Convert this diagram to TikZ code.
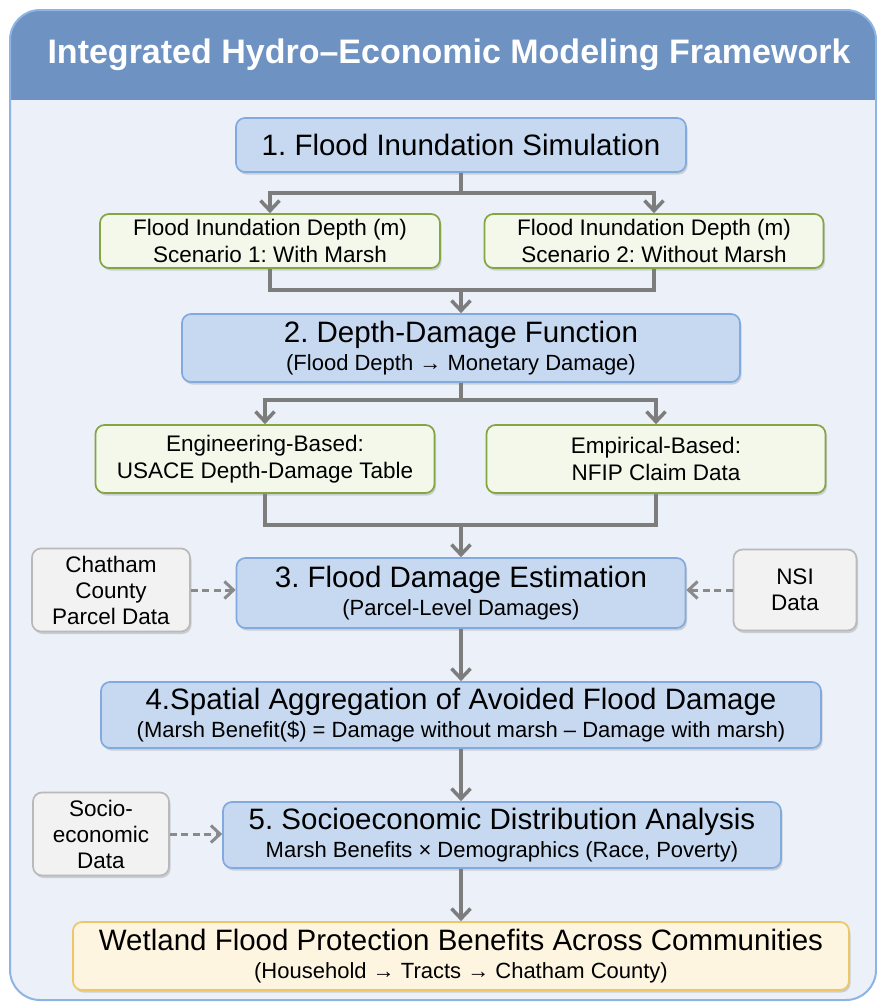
\documentclass[tikz,border=0pt]{standalone}
\usepackage{fontspec}
\setmainfont{Liberation Sans}
\usetikzlibrary{arrows.meta,shadows}

\definecolor{headblue}{RGB}{110,147,194}
\definecolor{bodyfill}{RGB}{235,240,249}
\definecolor{framedraw}{RGB}{142,180,227}
\definecolor{stagefill}{RGB}{198,217,241}
\definecolor{stagedraw}{RGB}{130,170,222}
\definecolor{greenfill}{RGB}{243,248,234}
\definecolor{greendraw}{RGB}{132,165,66}
\definecolor{grayfill}{RGB}{242,242,242}
\definecolor{graydraw}{RGB}{185,185,185}
\definecolor{goldfill}{RGB}{253,245,224}
\definecolor{golddraw}{RGB}{238,198,100}
\definecolor{linkgray}{RGB}{125,125,125}

\newcommand{\subsize}{\fontsize{22}{26}\selectfont}
\frenchspacing

\tikzset{
  box/.style={rounded corners=9pt, line width=1.7pt, align=center, inner sep=0pt,
    drop shadow={shadow xshift=1.5pt, shadow yshift=-2.5pt, opacity=0.3}},
  stage/.style={box, draw=stagedraw, fill=stagefill, font=\fontsize{29.5}{28}\selectfont},
  variant/.style={box, draw=greendraw, fill=greenfill, font=\fontsize{22.5}{26.5}\selectfont},
  datain/.style={box, draw=graydraw, fill=grayfill, font=\fontsize{22.5}{26}\selectfont},
  result/.style={box, draw=golddraw, fill=goldfill, font=\fontsize{29.5}{28}\selectfont},
  link/.style={draw=linkgray, line width=3.5pt},
  flow/.style={link, -{Straight Barb[length=10pt,width=19pt]}},
  dflow/.style={draw=linkgray!90, line width=3pt, dash pattern=on 7pt off 4.5pt,
    -{Straight Barb[length=9pt,width=17pt]}}
}

\begin{document}
\begin{tikzpicture}[x=1pt,y=-1pt]
\useasboundingbox (0,0) rectangle (877,1002);

% frame and header
\fill[bodyfill, rounded corners=30pt] (10,10) rectangle (876,1000);
\begin{scope}
  \clip[rounded corners=30pt] (10,10) rectangle (876,1000);
  \fill[headblue] (0,0) rectangle (877,100);
\end{scope}
\draw[framedraw, line width=2pt, rounded corners=30pt] (10,10) rectangle (876,1000);
\node[text=white, font=\fontsize{34}{40}\bfseries] (title) at (449,55)
  {Integrated Hydro–Economic Modeling Framework};

% stages
\node[stage, minimum width=450pt, minimum height=54pt] (sim) at (461,145)
  {1. Flood Inundation Simulation};
\node[variant, minimum width=340pt, minimum height=54pt] (dep1) at (270,241)
  {Flood Inundation Depth (m)\\Scenario 1: With Marsh};
\node[variant, minimum width=339pt, minimum height=54pt] (dep2) at (654,241)
  {Flood Inundation Depth (m)\\Scenario 2: Without Marsh};
\node[stage, minimum width=558pt, minimum height=68pt] (ddf) at (461,348)
  {2. Depth-Damage Function\\{\subsize (Flood Depth → Monetary Damage)}};
\node[variant, minimum width=339pt, minimum height=68pt] (eng) at (265,459)
  {Engineering-Based:\\USACE Depth-Damage Table};
\node[variant, minimum width=339pt, minimum height=68pt] (emp) at (656,459)
  {Empirical-Based:\\NFIP Claim Data};
\node[stage, minimum width=449pt, minimum height=70pt] (dmg) at (461,593)
  {3. Flood Damage Estimation\\{\subsize (Parcel-Level Damages)}};
\node[datain, minimum width=158pt, minimum height=83pt] (parcel) at (111,590)
  {Chatham\\County\\Parcel Data};
\node[datain, minimum width=123pt, minimum height=81pt] (nsi) at (795,590)
  {NSI\\Data};
\node[stage, minimum width=720pt, minimum height=66pt] (agg) at (461,715)
  {4.Spatial Aggregation of Avoided Flood Damage\\{\subsize (Marsh Benefit(\$) = Damage without marsh – Damage with marsh)}};
\node[stage, minimum width=558pt, minimum height=66pt] (dist) at (502,835)
  {5. Socioeconomic Distribution Analysis\\{\subsize Marsh Benefits × Demographics (Race, Poverty)}};
\node[datain, minimum width=136pt, minimum height=83pt] (socio) at (101,834)
  {Socio-\\economic\\Data};
\node[result, minimum width=776pt, minimum height=68pt] (out) at (461,956)
  {Wetland Flood Protection Benefits Across Communities\\{\subsize (Household → Tracts → Chatham County)}};

% connectors
\coordinate (sp1) at (461,193);
\coordinate (mg1) at (461,290);
\coordinate (sp2) at (461,400);
\coordinate (mg2) at (461,525);
\draw[link] (sim.south) -- (sp1);
\draw[flow] (sp1) -| (dep1.north);
\draw[flow] (sp1) -| (dep2.north);
\draw[link] (dep1.south) |- (mg1) -| (dep2.south);
\draw[flow] (mg1) -- (ddf.north);
\draw[link] (ddf.south) -- (sp2);
\draw[flow] (sp2) -| (eng.north);
\draw[flow] (sp2) -| (emp.north);
\draw[link] (eng.south) |- (mg2) -| (emp.south);
\draw[flow] (mg2) -- (dmg.north);
\draw[dflow] (parcel.east) -- (parcel.east -| dmg.west);
\draw[dflow] (nsi.west) -- (nsi.west -| dmg.east);
\draw[flow] (dmg.south) -- (agg.north);
\draw[flow] (agg.south) -- (agg.south |- dist.north);
\draw[dflow] (socio.east) -- (socio.east -| dist.west);
\draw[flow] (agg.south |- dist.south) -- (out.north);
\end{tikzpicture}
\end{document}
